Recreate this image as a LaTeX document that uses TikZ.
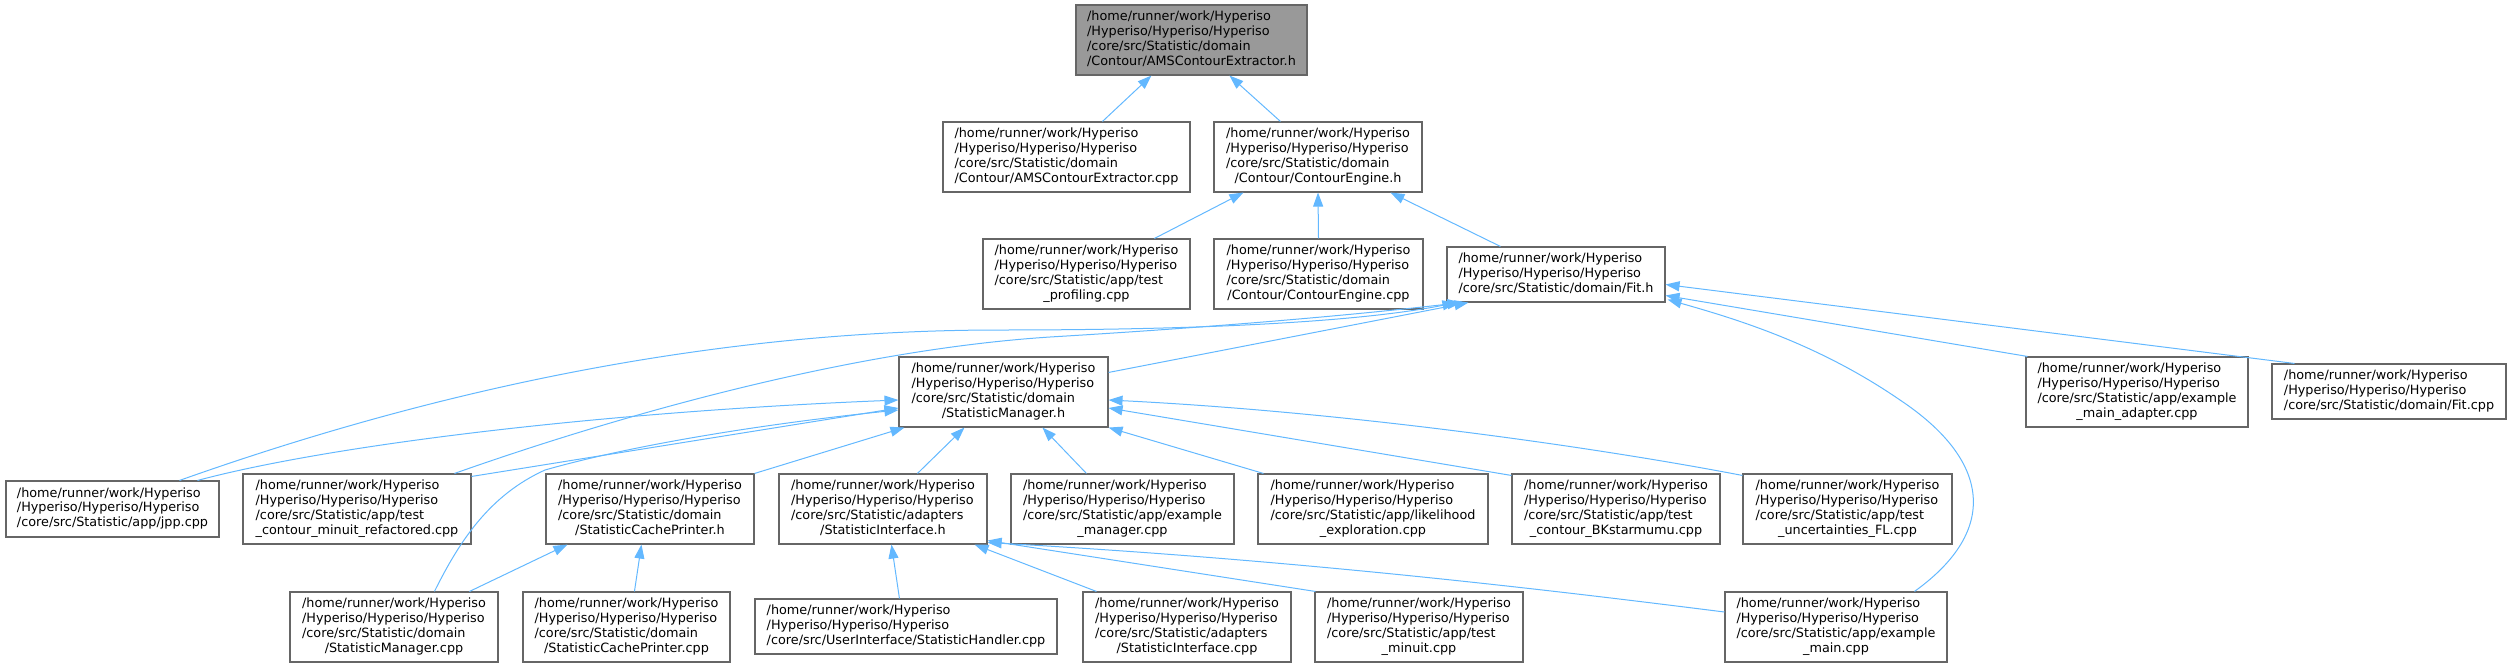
\documentclass[tikz,border=0pt]{standalone}
\usepackage{fontspec}
\setmainfont{DejaVu Sans}
\usetikzlibrary{arrows.meta,calc}
\definecolor{edgeblue}{HTML}{63B8FF}
\definecolor{boxborder}{HTML}{666666}
\definecolor{rootfill}{HTML}{999999}
\newcommand{\hdr}{/home/runner/work/Hyperiso\\/Hyperiso/Hyperiso/Hyperiso\\}
\newcommand{\lfour}[2]{\begin{tabular}{@{}l@{}}\hdr #1\\\multicolumn{1}{@{}c@{}}{#2}\end{tabular}}
\newcommand{\lthree}[1]{\begin{tabular}{@{}l@{}}\hdr #1\end{tabular}}
\tikzset{
  box/.style={draw=boxborder, line width=1.1pt, fill=white, inner sep=0pt, align=center,
    font=\fontsize{12.8}{14.8}\selectfont},
  rootbox/.style={box, fill=rootfill},
  dep/.style={draw=edgeblue, line width=1pt, -{Triangle[length=14pt,width=10pt]}, fill=none},
}
\begin{document}
\begin{tikzpicture}[x=1pt,y=-1pt]
\useasboundingbox (0,0) rectangle (2512,667);
\tikzset{every path/.append style={}}
% row 0
\node[rootbox, minimum width=231pt, minimum height=70pt] (root) at (1191.5,40) {\lfour{/core/src/Statistic/domain}{/Contour/AMSContourExtractor.h}};
% row 1
\node[box, minimum width=247pt, minimum height=70pt] (ams) at (1066.5,157) {\lfour{/core/src/Statistic/domain}{/Contour/AMSContourExtractor.cpp}};
\node[box, minimum width=208pt, minimum height=70pt] (ceh) at (1318,157) {\lfour{/core/src/Statistic/domain}{/Contour/ContourEngine.h}};
% row 2
\node[box, minimum width=207pt, minimum height=70pt] (prof) at (1086.5,274) {\lfour{/core/src/Statistic/app/test}{\_profiling.cpp}};
\node[box, minimum width=209pt, minimum height=70pt] (cecpp) at (1318.5,274) {\lfour{/core/src/Statistic/domain}{/Contour/ContourEngine.cpp}};
\node[box, minimum width=218pt, minimum height=55pt] (fith) at (1556,274.5) {\lthree{/core/src/Statistic/domain/Fit.h}};
% row 3
\node[box, minimum width=209pt, minimum height=70pt] (smh) at (1003.5,392) {\lfour{/core/src/Statistic/domain}{/StatisticManager.h}};
\node[box, minimum width=222pt, minimum height=70pt] (ema) at (2137,392) {\lfour{/core/src/Statistic/app/example}{\_main\_adapter.cpp}};
\node[box, minimum width=234pt, minimum height=55pt] (fitcpp) at (2389,391.5) {\lthree{/core/src/Statistic/domain/Fit.cpp}};
% row 4
\node[box, minimum width=213pt, minimum height=56pt] (jpp) at (112.5,509) {\lthree{/core/src/Statistic/app/jpp.cpp}};
\node[box, minimum width=228pt, minimum height=70pt] (tcmr) at (357,509) {\lfour{/core/src/Statistic/app/test}{\_contour\_minuit\_refactored.cpp}};
\node[box, minimum width=208pt, minimum height=70pt] (scph) at (650,509) {\lfour{/core/src/Statistic/domain}{/StatisticCachePrinter.h}};
\node[box, minimum width=208pt, minimum height=70pt] (sih) at (883,509) {\lfour{/core/src/Statistic/adapters}{/StatisticInterface.h}};
\node[box, minimum width=223pt, minimum height=70pt] (em) at (1122.5,509) {\lfour{/core/src/Statistic/app/example}{\_manager.cpp}};
\node[box, minimum width=230pt, minimum height=70pt] (le) at (1373,509) {\lfour{/core/src/Statistic/app/likelihood}{\_exploration.cpp}};
\node[box, minimum width=208pt, minimum height=70pt] (bk) at (1616,509) {\lfour{/core/src/Statistic/app/test}{\_contour\_BKstarmumu.cpp}};
\node[box, minimum width=209pt, minimum height=70pt] (ufl) at (1847.5,509) {\lfour{/core/src/Statistic/app/test}{\_uncertainties\_FL.cpp}};
% row 5
\node[box, minimum width=208pt, minimum height=70pt] (smc) at (394,627) {\lfour{/core/src/Statistic/domain}{/StatisticManager.cpp}};
\node[box, minimum width=207pt, minimum height=70pt] (scpc) at (626.5,627) {\lfour{/core/src/Statistic/domain}{/StatisticCachePrinter.cpp}};
\node[box, minimum width=302pt, minimum height=55pt] (sh) at (906,626.5) {\lthree{/core/src/UserInterface/StatisticHandler.cpp}};
\node[box, minimum width=208pt, minimum height=70pt] (sic) at (1187,627) {\lfour{/core/src/Statistic/adapters}{/StatisticInterface.cpp}};
\node[box, minimum width=208pt, minimum height=70pt] (tm) at (1419,627) {\lfour{/core/src/Statistic/app/test}{\_minuit.cpp}};
\node[box, minimum width=222pt, minimum height=70pt] (emain) at (1836,627) {\lfour{/core/src/Statistic/app/example}{\_main.cpp}};
% edges (child -> parent, arrowhead at parent)
\draw[dep] ($(ams.north west)+(160,0)$) -- ($(root.south west)+(76,0)$);
\draw[dep] ($(ceh.north west)+(67,0)$) -- ($(root.south west)+(154,0)$);
\draw[dep] ($(prof.north west)+(172,0)$) -- ($(ceh.south west)+(30,0)$);
\draw[dep] (cecpp.north) -- (ceh.south);
\draw[dep] ($(fith.north west)+(54,0)$) -- ($(ceh.south west)+(177,0)$);
\draw[dep] ($(smh.north east)+(0,16)$) -- ($(fith.south west)+(22,0)$);
\draw[dep] ($(jpp.north west)+(174,0)$) .. controls (420,395) and (700,330) .. (1000,330) .. controls (1250,330) and (1380,318) .. ($(fith.south west)+(10,0)$);
\draw[dep] ($(tcmr.north west)+(212,0)$) .. controls (620,415) and (850,350) .. (1050,337) .. controls (1250,325) and (1380,312) .. ($(fith.south west)+(15,0)$);
\draw[dep] ($(ema.north west)+(2,0)$) -- ($(fith.east)+(0,21)$);
\draw[dep] ($(fitcpp.north west)+(23,0)$) -- ($(fith.east)+(0,10)$);
\draw[dep] ($(emain.north west)+(190,0)$) .. controls (2000,530) and (1990,460) .. (1900,400) .. controls (1820,345) and (1740,320) .. ($(fith.south east)+(2,-3)$);
\draw[dep] ($(jpp.north west)+(192,0)$) .. controls (330,445) and (600,412) .. ($(smh.west)+(0,8)$);
\draw[dep] ($(tcmr.north east)+(0,3)$) -- ($(smh.west)+(0,16)$);
\draw[dep] ($(smc.north west)+(145,0)$) .. controls (460,540) and (490,495) .. (545,470) .. controls (650,440) and (800,420) .. ($(smh.west)+(0,18)$);
\draw[dep] (scph.north east) -- ($(smh.south west)+(6,0)$);
\draw[dep] ($(sih.north west)+(139,0)$) -- ($(smh.south west)+(66,0)$);
\draw[dep] ($(em.north west)+(76,0)$) -- ($(smh.south west)+(144,0)$);
\draw[dep] ($(le.north west)+(6,0)$) -- (smh.south east);
\draw[dep] ($(bk.north west)+(0,2)$) -- ($(smh.east)+(0,16)$);
\draw[dep] ($(ufl.north west)+(0,2)$) .. controls (1600,448) and (1350,412) .. ($(smh.east)+(0,8)$);
\draw[dep] ($(smc.north west)+(180,0)$) -- ($(scph.south west)+(22,0)$);
\draw[dep] ($(scpc.north west)+(112,0)$) -- ($(scph.south west)+(96,0)$);
\draw[dep] ($(sh.north west)+(145,0)$) -- ($(sih.south west)+(113,0)$);
\draw[dep] ($(sic.north west)+(14,0)$) -- ($(sih.south east)+(-13,0)$);
\draw[dep] ($(tm.north west)+(1,0)$) -- ($(sih.south east)+(0,-4)$);
\draw[dep] ($(emain.west)+(0,-15)$) .. controls (1550,590) and (1300,560) .. ($(sih.south east)+(0,-2)$);
\end{tikzpicture}
\end{document}
